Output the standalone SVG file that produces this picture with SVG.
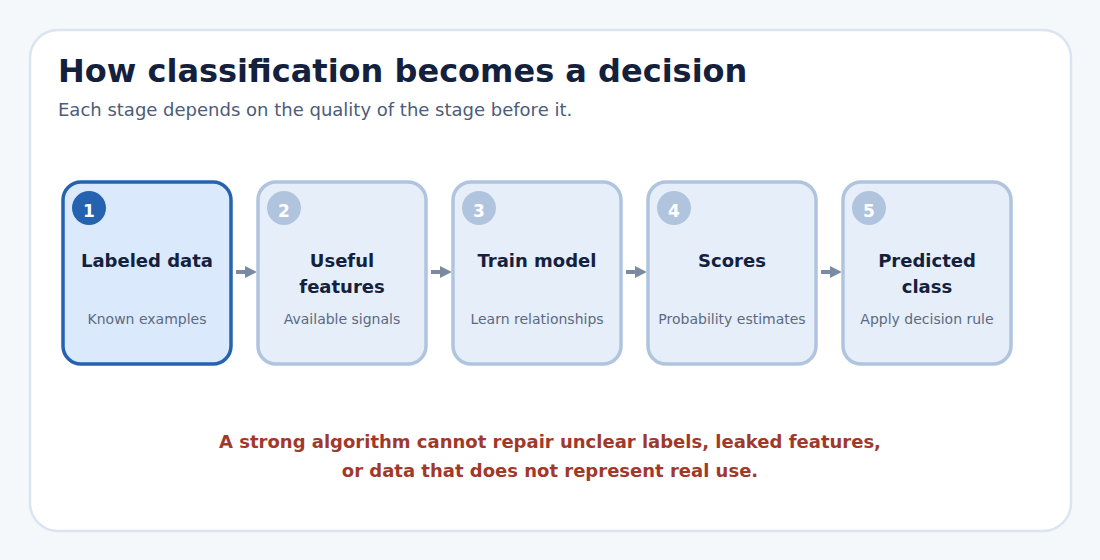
<svg xmlns="http://www.w3.org/2000/svg" width="1100" height="560" viewBox="0 0 1100 560">
<defs>
<style>
text{font-family:"DejaVu Sans",sans-serif}
.card{fill:#e6eef9;stroke:#b0c4de;stroke-width:3.5}
.card.on{fill:#dbe9fd;stroke:#2563b0}
.badge{fill:#b0c4de}
.on .badge,.badge.on{fill:#2563b0}
.num{fill:#fff;font-size:17px;font-weight:bold;text-anchor:middle}
.t{fill:#14213d;font-size:18px;font-weight:bold;text-anchor:middle}
.s{fill:#5b6a82;font-size:14px;text-anchor:middle}
.c{stroke:#7b8aa3;stroke-width:4;fill:none}
</style>
<marker id="ah" viewBox="0 0 10 10" refX="6" refY="5" markerWidth="3" markerHeight="3" orient="auto"><path d="M0,0L10,5L0,10z" fill="#7b8aa3"/></marker>
</defs>
<rect width="1100" height="560" fill="#f5f8fb"/>
<rect x="30" y="30" width="1041" height="501" rx="28" fill="#fff" stroke="#dbe4f0" stroke-width="2.5"/>
<text x="58" y="82" font-size="32" font-weight="bold" fill="#14213d">How classification becomes a decision</text>
<text x="58" y="116" font-size="18" fill="#4c5c78">Each stage depends on the quality of the stage before it.</text>
<g id="connectors">
<line class="c" x1="236" y1="272" x2="252" y2="272" marker-end="url(#ah)"/>
<line class="c" x1="431" y1="272" x2="447" y2="272" marker-end="url(#ah)"/>
<line class="c" x1="626" y1="272" x2="642" y2="272" marker-end="url(#ah)"/>
<line class="c" x1="821" y1="272" x2="837" y2="272" marker-end="url(#ah)"/>
</g>
<g id="n1"><rect class="card on" x="63" y="182" width="168" height="182" rx="18"/><circle class="badge on" cx="89" cy="208" r="17"/><text class="num" x="89" y="217">1</text><text class="t" x="147" y="267">Labeled data</text><text class="s" x="147" y="324">Known examples</text></g>
<g id="n2"><rect class="card" x="258" y="182" width="168" height="182" rx="18"/><circle class="badge" cx="284" cy="208" r="17"/><text class="num" x="284" y="217">2</text><text class="t" x="342" y="267">Useful</text><text class="t" x="342" y="293">features</text><text class="s" x="342" y="324">Available signals</text></g>
<g id="n3"><rect class="card" x="453" y="182" width="168" height="182" rx="18"/><circle class="badge" cx="479" cy="208" r="17"/><text class="num" x="479" y="217">3</text><text class="t" x="537" y="267">Train model</text><text class="s" x="537" y="324">Learn relationships</text></g>
<g id="n4"><rect class="card" x="648" y="182" width="168" height="182" rx="18"/><circle class="badge" cx="674" cy="208" r="17"/><text class="num" x="674" y="217">4</text><text class="t" x="732" y="267">Scores</text><text class="s" x="732" y="324">Probability estimates</text></g>
<g id="n5"><rect class="card" x="843" y="182" width="168" height="182" rx="18"/><circle class="badge" cx="869" cy="208" r="17"/><text class="num" x="869" y="217">5</text><text class="t" x="927" y="267">Predicted</text><text class="t" x="927" y="293">class</text><text class="s" x="927" y="324">Apply decision rule</text></g>
<text x="550" y="448" font-size="18" font-weight="bold" fill="#a0392a" text-anchor="middle">A strong algorithm cannot repair unclear labels, leaked features,</text>
<text x="550" y="477" font-size="18" font-weight="bold" fill="#a0392a" text-anchor="middle">or data that does not represent real use.</text>
</svg>
